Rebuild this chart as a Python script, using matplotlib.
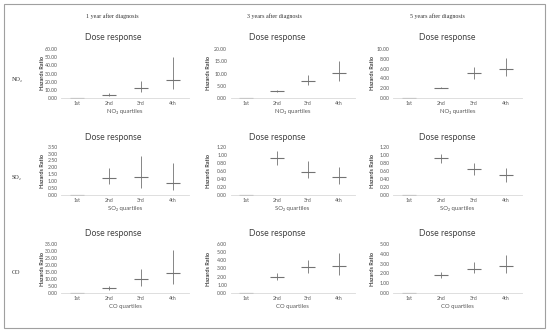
import matplotlib
matplotlib.use("Agg")
import matplotlib.pyplot as plt
import matplotlib.patches as patches

plt.rcParams['font.family'] = ['Lato', 'DejaVu Sans']

categories = ["1st", "2nd", "3rd", "4th"]
pollutants = ["NO₂", "SO₂", "CO"]
periods = ["1 year after diagnosis", "3 years after diagnosis", "5 years after diagnosis"]

# hazard ratio, lower and upper CI per panel (row = pollutant, col = period)
no2_1y = [0, 4.0, 11.8, 22.0]
no2_1y_lo = [0, 2.8, 7.0, 10.6]
no2_1y_hi = [0, 5.6, 20.8, 49.8]
no2_3y = [0, 2.8, 7.0, 10.1]
no2_3y_lo = [0, 2.5, 5.5, 6.8]
no2_3y_hi = [0, 3.1, 9.2, 14.9]
no2_5y = [0, 2.1, 5.1, 5.95]
no2_5y_lo = [0, 1.95, 3.85, 4.4]
no2_5y_hi = [0, 2.25, 6.3, 8.2]

so2_1y = [0, 1.25, 1.28, 0.89]
so2_1y_lo = [0, 0.80, 0.53, 0.34]
so2_1y_hi = [0, 1.93, 2.85, 2.3]
so2_3y = [0, 0.91, 0.58, 0.44]
so2_3y_lo = [0, 0.74, 0.41, 0.28]
so2_3y_hi = [0, 1.10, 0.85, 0.70]
so2_5y = [0, 0.91, 0.64, 0.49]
so2_5y_lo = [0, 0.79, 0.50, 0.33]
so2_5y_hi = [0, 1.03, 0.80, 0.66]

co_1y = [0, 3.3, 9.8, 14.5]
co_1y_lo = [0, 2.4, 5.2, 6.6]
co_1y_hi = [0, 5.0, 17.4, 31.0]
co_3y = [0, 2.02, 3.13, 3.29]
co_3y_lo = [0, 1.65, 2.39, 2.18]
co_3y_hi = [0, 2.47, 4.1, 4.93]
co_5y = [0, 1.82, 2.5, 2.78]
co_5y_lo = [0, 1.54, 1.99, 1.99]
co_5y_hi = [0, 2.13, 3.12, 3.84]

panels = [
    [(no2_1y, no2_1y_lo, no2_1y_hi, 60, 10), (no2_3y, no2_3y_lo, no2_3y_hi, 20, 5), (no2_5y, no2_5y_lo, no2_5y_hi, 10, 2)],
    [(so2_1y, so2_1y_lo, so2_1y_hi, 3.5, 0.5), (so2_3y, so2_3y_lo, so2_3y_hi, 1.2, 0.2), (so2_5y, so2_5y_lo, so2_5y_hi, 1.2, 0.2)],
    [(co_1y, co_1y_lo, co_1y_hi, 35, 5), (co_3y, co_3y_lo, co_3y_hi, 6, 1), (co_5y, co_5y_lo, co_5y_hi, 5, 1)],
]

W, H = 550, 336
fig = plt.figure(figsize=(W / 100, H / 100), dpi=100)

# pixel layout (top-left origin)
col_x = [(61, 189), (230.5, 354.5), (393, 522)]
row_y = [(49, 98), (146.7, 195), (244, 293)]
title_x = [113, 277, 447]
title_y = [38, 137, 234]
ylab_x = [43, 208, 373]
head_x = [112, 274, 437]
rowlab_y = [80, 177, 272]

def fx(x):
    return x / W

def fy(y):
    return 1 - y / H

fig.add_artist(patches.Rectangle((fx(4), fy(328)), fx(541), (324) / H, transform=fig.transFigure,
                                 fill=False, edgecolor="#a0a0a0", linewidth=0.8))

for r in range(3):
    for c in range(3):
        hr, lo, hi, ymax, step = panels[r][c]
        x0, x1 = col_x[c]
        y0, y1 = row_y[r]
        ax = fig.add_axes([fx(x0), fy(y1), (x1 - x0) / W, (y1 - y0) / H])
        xs = range(len(categories))
        err = [[h - l for h, l in zip(hr, lo)], [u - h for h, u in zip(hr, hi)]]
        ax.errorbar(xs, hr, yerr=err, fmt="_", color="#737373", ecolor="#737373",
                    elinewidth=0.6, markersize=9.5, markeredgewidth=0.8, capsize=0)
        ax.set_xlim(-0.5, 3.5)
        ax.set_ylim(0, ymax)
        n = int(round(ymax / step))
        ticks = [i * step for i in range(n + 1)]
        ax.set_yticks(ticks)
        ax.set_yticklabels([f"{t:.2f}" for t in ticks])
        ax.set_xticks(list(xs))
        ax.set_xticklabels(categories)
        ax.tick_params(axis="both", length=0, labelsize=3.7, colors="#595959", pad=2.5)
        for s in ["top", "right", "left"]:
            ax.spines[s].set_visible(False)
        ax.spines["bottom"].set_color("#d9d9d9")
        ax.spines["bottom"].set_linewidth(0.6)
        ax.set_xlabel(pollutants[r] + " quartiles", fontsize=4.3, color="#595959", labelpad=2)
        fig.text(fx(ylab_x[c]), fy((y0 + y1) / 2), "Hazards Ratio", rotation=90, fontsize=4.0,
                 fontweight="bold", color="#404040", ha="center", va="center")
        fig.text(fx(title_x[c]), fy(title_y[r]), "Dose response", fontsize=6.2,
                 color="#404040", ha="center", va="center")

for c in range(3):
    fig.text(fx(head_x[c]), fy(16), periods[c], fontsize=4.3, family=["Liberation Serif", "DejaVu Serif"],
             color="#333333", ha="center", va="center")
for r in range(3):
    fig.text(fx(12), fy(rowlab_y[r]), pollutants[r], fontsize=4.4, family=["Liberation Serif", "DejaVu Serif"],
             color="#333333", ha="left", va="center")

fig.savefig("out.png", dpi=100)
